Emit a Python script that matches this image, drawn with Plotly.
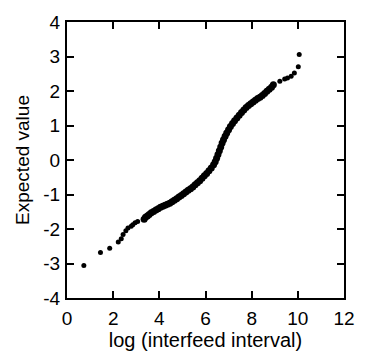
import plotly.graph_objects as go

# Sparse lower tail points
low_x = [0.73, 1.45, 1.85, 2.22, 2.35, 2.43, 2.55, 2.64, 2.78, 2.85, 2.95, 3.06]
low_y = [-3.06, -2.68, -2.56, -2.38, -2.28, -2.16, -2.05, -1.97, -1.92, -1.88, -1.82, -1.78]

# Dense body of the curve
body_x = [3.34, 3.40, 3.48, 3.56, 3.65, 3.75, 3.85, 3.95, 4.05, 4.15, 4.25, 4.35, 4.45,
          4.55, 4.65, 4.75, 4.85, 4.95, 5.05, 5.15, 5.25, 5.35, 5.45, 5.55, 5.65, 5.75,
          5.85, 5.95, 6.05, 6.15, 6.25, 6.35, 6.42, 6.48, 6.54, 6.60, 6.66, 6.72, 6.78,
          6.85, 6.92, 7.00, 7.08, 7.17, 7.26, 7.36, 7.46, 7.56, 7.66, 7.76, 7.86, 7.96,
          8.06, 8.16, 8.26, 8.36, 8.46, 8.56, 8.66, 8.76, 8.86, 8.94]
body_y = [-1.72, -1.66, -1.62, -1.58, -1.53, -1.49, -1.45, -1.41, -1.37, -1.34, -1.31, -1.28, -1.25,
          -1.21, -1.17, -1.12, -1.07, -1.03, -0.98, -0.93, -0.88, -0.83, -0.78, -0.72, -0.66, -0.60,
          -0.53, -0.46, -0.39, -0.31, -0.23, -0.14, -0.05, 0.05, 0.16, 0.27, 0.38, 0.49, 0.59,
          0.69, 0.78, 0.88, 0.97, 1.06, 1.14, 1.22, 1.30, 1.38, 1.45, 1.52, 1.58, 1.63,
          1.68, 1.73, 1.78, 1.82, 1.87, 1.93, 1.99, 2.05, 2.11, 2.18]

# Sparse upper tail points
high_x = [9.22, 9.43, 9.55, 9.71, 9.85, 10.02, 10.06]
high_y = [2.28, 2.35, 2.38, 2.43, 2.52, 2.70, 3.06]

x_ticks = [0, 2, 4, 6, 8, 10, 12]
x_ticktext = ["0", "2", "4", "6", "8", "10", "12"]
y_ticks = [4, 3, 2, 1, 0, -1, -2, -3, -4]
y_ticktext = ["4", "3", "2", "1", "0", "-1", "-2", "-3", "-4"]

fig = go.Figure()
fig.add_trace(go.Scatter(x=low_x, y=low_y, mode="markers",
                         marker=dict(color="black", size=5), showlegend=False))
fig.add_trace(go.Scatter(x=body_x, y=body_y, mode="markers",
                         marker=dict(color="black", size=7), showlegend=False))
fig.add_trace(go.Scatter(x=high_x, y=high_y, mode="markers",
                         marker=dict(color="black", size=5), showlegend=False))

axis_common = dict(showgrid=False, zeroline=False, showline=True, linecolor="black",
                   linewidth=2, mirror="ticks", ticks="inside", ticklen=7, tickwidth=1.5,
                   tickcolor="black", tickfont=dict(family="Liberation Sans, Arial", size=19, color="black"))

fig.update_layout(
    width=367, height=360,
    margin=dict(l=67, r=14, t=15, b=61),
    paper_bgcolor="white", plot_bgcolor="white",
    font=dict(family="Liberation Sans, Arial", color="black"),
    xaxis=dict(range=[0, 12], tickvals=x_ticks, ticktext=x_ticktext, ticklabelstandoff=2,
               title=dict(text="log (interfeed interval)", font=dict(size=20), standoff=5),
               **axis_common),
    yaxis=dict(range=[-4, 4], tickvals=y_ticks, ticktext=y_ticktext, ticklabelstandoff=1,
               title=dict(text="Expected value", font=dict(size=19), standoff=9),
               **axis_common),
)

fig.write_html("out.html")
